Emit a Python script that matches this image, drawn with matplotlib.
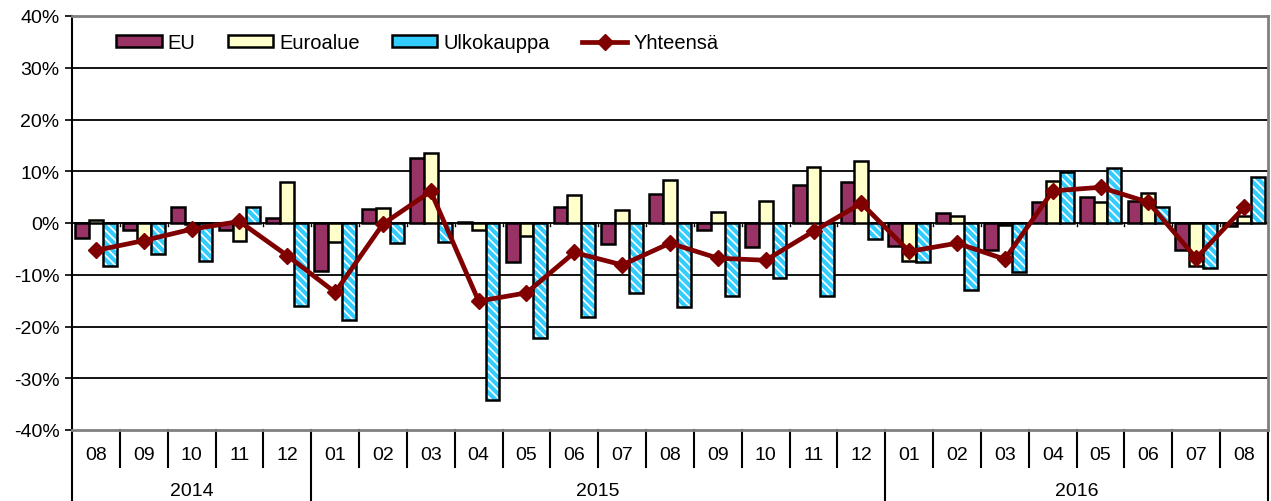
import matplotlib
matplotlib.use("Agg")
import matplotlib.pyplot as plt
import numpy as np
from matplotlib.transforms import blended_transform_factory
from matplotlib.patches import Patch

plt.rcParams['font.family'] = ['Liberation Sans', 'DejaVu Sans']
plt.rcParams['hatch.linewidth'] = 1.2

months = ["08", "09", "10", "11", "12",
          "01", "02", "03", "04", "05", "06", "07", "08", "09", "10", "11", "12",
          "01", "02", "03", "04", "05", "06", "07", "08"]
years = ["2014", "2015", "2016"]
year_counts = [5, 12, 8]

eu = [-2.9, -1.3, 3.1, -1.4, 1.0,
      -9.3, 2.7, 12.6, 0.2, -7.6, 3.0, -4.1, 5.6, -1.3, -4.7, 7.3, 8.0,
      -4.4, 1.9, -5.3, 4.0, 5.0, 4.3, -5.2, -0.5]
euroalue = [0.6, -3.6, -0.2, -3.5, 8.0,
            -3.6, 2.9, 13.5, -1.4, -2.6, 5.4, 2.5, 8.4, 2.2, 4.3, 10.9, 12.0,
            -7.3, 1.4, -0.4, 8.2, 4.0, 5.8, -8.3, 1.4]
ulkokauppa = [-8.4, -6.0, -7.4, 3.0, -16.1,
              -18.7, -3.9, -3.6, -34.2, -22.3, -18.2, -13.5, -16.3, -14.2, -10.6, -14.2, -3.1,
              -7.5, -12.9, -9.5, 9.9, 10.6, 3.0, -8.7, 8.8]
yhteensa = [-5.3, -3.4, -1.2, 0.3, -6.3,
            -13.4, -0.2, 6.1, -15.1, -13.5, -5.7, -8.1, -3.9, -6.8, -7.2, -1.6, 3.8,
            -5.5, -3.9, -7.0, 6.2, 6.9, 4.0, -6.8, 3.0]

W, H = 1271, 502
fig = plt.figure(figsize=(W / 100, H / 100), dpi=100)
ax = fig.add_axes([72 / W, (H - 431) / H, 1196 / W, 414 / H])

x = np.arange(len(months))
bw = 0.29
ax.bar(x - bw, eu, bw, color="#993366", edgecolor="black", linewidth=1.8, zorder=3)
ax.bar(x, euroalue, bw, color="#FFFFCC", edgecolor="black", linewidth=1.8, zorder=3)
ax.bar(x + bw, ulkokauppa, bw, color="#33CCFF", edgecolor="white", hatch="\\\\\\\\", linewidth=0, zorder=3)
ax.bar(x + bw, ulkokauppa, bw, facecolor="none", edgecolor="black", linewidth=1.8, zorder=3.1)
ulko_handle = Patch(facecolor="#33CCFF", edgecolor="black", linewidth=1.8)
eu_handle = Patch(facecolor="#993366", edgecolor="black", linewidth=1.8)
euro_handle = Patch(facecolor="#FFFFCC", edgecolor="black", linewidth=1.8)
line, = ax.plot(x, yhteensa, color="#800000", linewidth=3.4, marker="D", markersize=8,
                zorder=5)

ax.set_xlim(-0.5, len(months) - 0.5)
ax.set_ylim(-40, 40)
ax.set_yticks(np.arange(-40, 41, 10))
ax.set_yticklabels([f"{v}%" for v in range(-40, 41, 10)], fontsize=14)
ax.tick_params(axis='y', length=5, width=1.2, pad=4, direction='out')
ax.set_xticks([])
for v in range(-30, 40, 10):
    ax.axhline(v, color="black", linewidth=1.3, zorder=1)

for s in ["top", "right", "bottom"]:
    ax.spines[s].set_color("#808080")
    ax.spines[s].set_linewidth(2)
ax.spines["left"].set_color("black")
ax.spines["left"].set_linewidth(1.5)

# small category ticks on zero line
for b in np.arange(0.5, len(months) - 0.5, 1):
    ax.plot([b, b], [0, -0.6], color="black", linewidth=1, zorder=2)

trans = blended_transform_factory(ax.transData, ax.transAxes)
for i, m in enumerate(months):
    ax.text(i, -0.058, m, transform=trans, ha="center", va="center", fontsize=14)
year_bounds = np.cumsum([0] + year_counts) - 0.5
for b in np.arange(0.5, len(months) - 0.5, 1):
    if b in year_bounds:
        continue
    ax.plot([b, b], [0, -0.089], transform=trans, color="black", linewidth=1.5, clip_on=False)
for b in year_bounds:
    ax.plot([b, b], [0, -0.2], transform=trans, color="black", linewidth=1.5, clip_on=False)
for k, yname in enumerate(years):
    c = (year_bounds[k] + year_bounds[k + 1]) / 2
    ax.text(c, -0.147, yname, transform=trans, ha="center", va="center", fontsize=14)

handles = [eu_handle, euro_handle, ulko_handle, line]
labels = ["EU", "Euroalue", "Ulkokauppa", "Yhteensä"]
leg = ax.legend(handles, labels, loc="upper left", bbox_to_anchor=(0.037, 0.958), ncol=4,
                frameon=False, fontsize=14.5, handlelength=2.25, handleheight=0.55,
                handletextpad=0.3, columnspacing=1.6, borderpad=0, borderaxespad=0)

fig.savefig("out.png", dpi=100)
